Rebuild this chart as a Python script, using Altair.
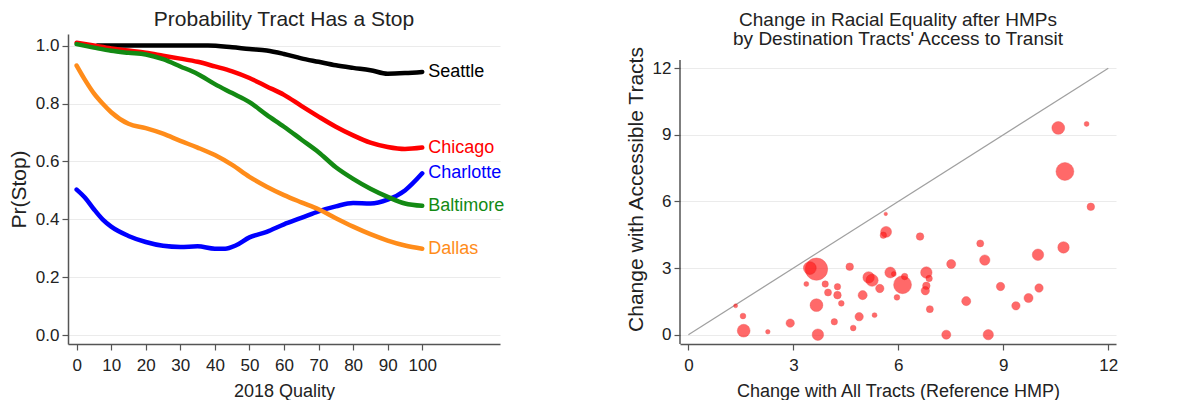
import altair as alt
import pandas as pd

FONT = "Liberation Sans"

# ---------------- Left panel data ----------------
seattle_q = [6, 10, 20, 30, 38, 45, 50, 55, 60, 65, 70, 75, 80, 85, 90, 95, 100]
seattle_v = [1.0, 1.0, 1.0, 1.0, 1.0, 0.994, 0.988, 0.983, 0.971, 0.956, 0.944, 0.932, 0.923, 0.915, 0.903, 0.905, 0.909]

chicago_q = [0, 5, 10, 15, 20, 25, 30, 35, 40, 45, 50, 55, 60, 65, 70, 75, 80, 85, 90, 95, 100]
chicago_v = [1.01, 1.0, 0.99, 0.983, 0.975, 0.965, 0.955, 0.944, 0.928, 0.911, 0.888, 0.859, 0.83, 0.792, 0.755, 0.72, 0.69, 0.665, 0.65, 0.643, 0.648]

baltimore_q = [0, 5, 10, 15, 20, 25, 30, 35, 40, 45, 50, 55, 60, 65, 70, 75, 80, 85, 90, 95, 100]
baltimore_v = [1.005, 0.993, 0.982, 0.975, 0.969, 0.953, 0.928, 0.902, 0.867, 0.836, 0.805, 0.761, 0.72, 0.676, 0.632, 0.58, 0.54, 0.506, 0.478, 0.455, 0.447]

charlotte_q = [0, 2.5, 5, 7.5, 10, 15, 20, 25, 30, 35, 40, 43, 46, 50, 55, 60, 65, 70, 75, 80, 85, 90, 95, 100]
charlotte_v = [0.503, 0.474, 0.435, 0.4, 0.375, 0.343, 0.322, 0.309, 0.305, 0.307, 0.299, 0.299, 0.31, 0.338, 0.357, 0.383, 0.405, 0.428, 0.445, 0.457, 0.455, 0.468, 0.5, 0.559]

dallas_q = [0, 2.5, 5, 7.5, 10, 15, 20, 25, 30, 35, 40, 45, 50, 55, 60, 65, 70, 75, 80, 85, 90, 95, 100]
dallas_v = [0.931, 0.88, 0.835, 0.8, 0.77, 0.73, 0.715, 0.696, 0.671, 0.648, 0.622, 0.588, 0.547, 0.513, 0.484, 0.459, 0.435, 0.404, 0.375, 0.349, 0.327, 0.31, 0.299]

cities = ["Seattle", "Chicago", "Charlotte", "Baltimore", "Dallas"]
city_colors = ["#000000", "#ff0000", "#0000ff", "#138a13", "#ff8c1a"]

series = {
    "Seattle": (seattle_q, seattle_v),
    "Chicago": (chicago_q, chicago_v),
    "Charlotte": (charlotte_q, charlotte_v),
    "Baltimore": (baltimore_q, baltimore_v),
    "Dallas": (dallas_q, dallas_v),
}

rows = []
for c, (qs, vs) in series.items():
    for q, v in zip(qs, vs):
        rows.append({"city": c, "q": q, "v": v})
line_df = pd.DataFrame(rows)
label_df = pd.DataFrame([{"city": c, "q": series[c][0][-1], "v": series[c][1][-1]} for c in cities])

# ---------------- Right panel data ----------------
all_tracts = [10.57, 11.38, 10.76, 11.5, 10.72, 9.99, 10.02, 9.72, 9.36, 8.92, 8.47, 8.34, 7.94, 7.51, 7.37, 8.57,
              6.62, 6.8, 6.88, 6.8, 6.77, 6.9, 6.12, 6.18, 5.96, 5.77, 5.87, 5.65, 5.57, 5.64, 5.15, 5.25, 5.47,
              4.61, 4.98, 4.88, 5.32, 4.71, 4.17, 4.37, 4.26, 4.26, 3.99, 3.91, 3.37, 3.66, 3.47, 3.66, 3.7,
              2.91, 2.27, 1.58, 1.56, 1.35]
accessible = [9.31, 9.49, 7.35, 5.76, 3.93, 3.6, 2.1, 1.65, 1.3, 2.17, 3.36, 4.11, 1.51, 3.18, 0.0, 0.0,
              4.42, 2.8, 2.53, 2.2, 1.98, 1.15, 2.25, 2.62, 1.68, 2.8, 2.73, 4.63, 4.48, 5.44, 2.58, 2.45, 2.08,
              3.06, 1.78, 0.81, 0.88, 0.3, 0.58, 1.41, 1.78, 2.16, 1.9, 2.28, 2.28, 2.95, 3.0, 1.33, 0.0,
              0.52, 0.13, 0.18, 0.84, 1.3]
weight = [40, 6, 78, 14, 32, 32, 17, 20, 17, 17, 26, 12, 20, 20, 20, 26,
          14, 32, 10, 14, 17, 12, 78, 10, 8, 29, 6, 29, 10, 3, 32, 36, 17,
          14, 20, 17, 6, 8, 10, 8, 14, 10, 12, 10, 6, 122, 40, 40, 32,
          17, 5, 40, 8, 4]
ref_line_x = [0, 12]
ref_line_y = [0, 12]

# axis extents of the right panel
r_xmin, r_xmax = -0.24, 12.22
r_ymin, r_ymax = -0.42, 12.37

scatter_df = pd.DataFrame({"all": all_tracts, "acc": accessible, "w": weight})
ref_df = pd.DataFrame({"all": ref_line_x, "acc": ref_line_y})
yaxis_df = pd.DataFrame({"all": [r_xmin], "acc": [r_ymin], "acc2": [r_ymax]})

# ---------------- Left chart ----------------
lx = alt.X("q:Q", title="2018 Quality",
           scale=alt.Scale(domain=[-2.5, 122.5], nice=False, zero=False),
           axis=alt.Axis(values=list(range(0, 101, 10)), grid=False))
ly = alt.Y("v:Q", title="Pr(Stop)",
           scale=alt.Scale(domain=[-0.03, 1.04], nice=False, zero=False),
           axis=alt.Axis(values=[0, 0.2, 0.4, 0.6, 0.8, 1.0], format=".1f", grid=True))
color = alt.Color("city:N", scale=alt.Scale(domain=cities, range=city_colors), legend=None)

lines = alt.Chart(line_df).mark_line(strokeWidth=4.5, interpolate="monotone", strokeCap="round").encode(
    x=lx, y=ly, color=color, detail="city:N")
labels = alt.Chart(label_df).mark_text(align="left", baseline="middle", dx=6, fontSize=18, font=FONT).encode(
    x="q:Q", y="v:Q", text="city:N", color=color)
left = alt.layer(lines, labels).properties(
    width=432, height=310,
    title=alt.TitleParams("Probability Tract Has a Stop", fontSize=21, font=FONT, fontWeight="normal",
                          color="#222", anchor="middle", offset=4))

# ---------------- Right chart ----------------
rx = alt.X("all:Q", title="Change with All Tracts (Reference HMP)",
           scale=alt.Scale(domain=[r_xmin, r_xmax], nice=False, zero=False),
           axis=alt.Axis(values=[0, 3, 6, 9, 12], grid=False))
ry = alt.Y("acc:Q", title="Change with Accessible Tracts",
           scale=alt.Scale(domain=[r_ymin, r_ymin + (r_ymax - r_ymin) * 310 / 284], nice=False, zero=False),
           axis=alt.Axis(values=[0, 3, 6, 9, 12], grid=True, domain=False))

yline = alt.Chart(yaxis_df).mark_rule(color="#555", strokeWidth=1.5).encode(
    x="all:Q", y="acc:Q", y2="acc2:Q")
ref = alt.Chart(ref_df).mark_line(color="#a0a0a0", strokeWidth=1.2).encode(x=rx, y=ry)
pts = alt.Chart(scatter_df).mark_circle(color="#ff1a1a", opacity=0.65, stroke="#e00000",
                                        strokeWidth=0.6, strokeOpacity=0.7).encode(
    x="all:Q", y="acc:Q",
    size=alt.Size("w:Q", scale=alt.Scale(domain=[0, 122], range=[0, 500], zero=True), legend=None))
right = alt.layer(ref, yline, pts).properties(
    width=436, height=310,
    title=alt.TitleParams(["Change in Racial Equality after HMPs", "by Destination Tracts' Access to Transit"],
                          fontSize=19, font=FONT, fontWeight="normal", color="#222", anchor="middle",
                          offset=-15, lineHeight=19))

chart = alt.hconcat(left, right, spacing=120).properties(
    padding={"left": 0, "top": 0, "right": 0, "bottom": 0}
).configure_view(stroke=None).configure_axis(
    labelFont=FONT, titleFont=FONT, labelFontSize=17, titleFontSize=18,
    titleFontWeight="normal", labelColor="#222", titleColor="#222",
    domainColor="#555", domainWidth=1.5, tickColor="#555", tickWidth=1.2, tickSize=6,
    gridColor="#ebebeb", gridWidth=1
).configure_axisY(titleFontSize=21, labelPadding=3, titlePadding=6
).configure_axisX(labelPadding=7, titlePadding=9)

chart.save("out.html", embed_options={"renderer": "svg", "actions": False})
